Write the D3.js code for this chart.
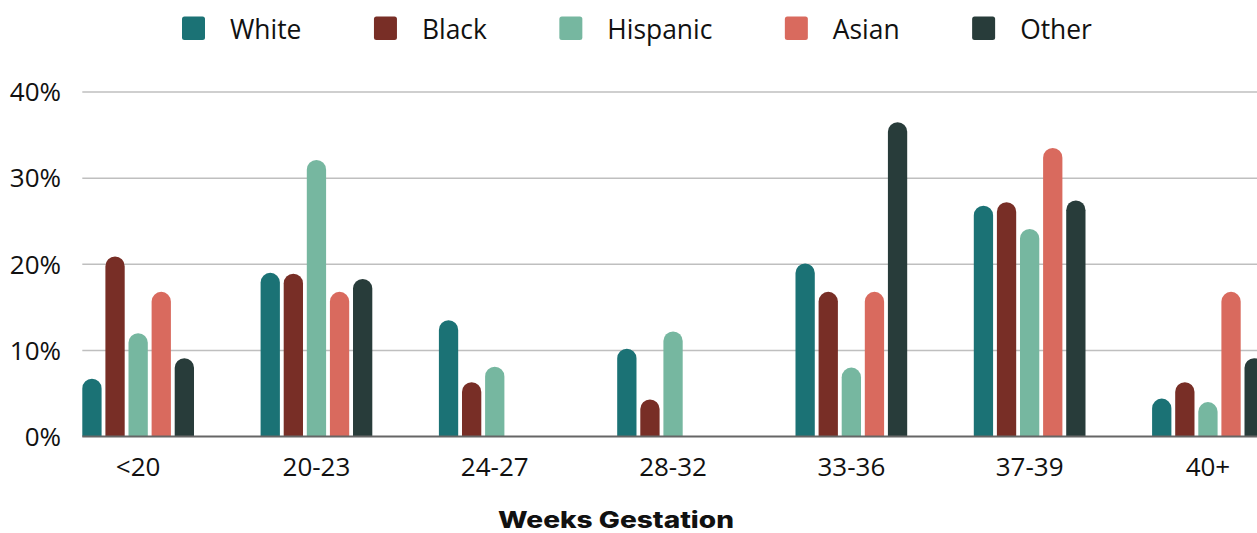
<!DOCTYPE html>
<html>
<head>
<meta charset="utf-8">
<script src="https://cdn.jsdelivr.net/npm/d3@7"></script>
<style>
  html, body { margin: 0; padding: 0; background: #fff; }
  svg { display: block; }
  text { font-family: "Open Sans", "Noto Sans", sans-serif; fill: #111; }
</style>
</head>
<body>
<svg id="chart" width="1257" height="533"></svg>
<script>
// Share of cases by weeks of gestation, per group (percent)
const categories = ["<20", "20-23", "24-27", "28-32", "33-36", "37-39", "40+"];
const seriesNames = ["White", "Black", "Hispanic", "Asian", "Other"];
const white    = [6.7, 19.0, 13.5, 10.2, 20.1, 26.8, 4.4];
const black    = [20.9, 18.9, 6.3, 4.3, 16.8, 27.2, 6.3];
const hispanic = [12.0, 32.1, 8.1, 12.2, 8.0, 24.1, 4.0];
const asian    = [16.8, 16.8, 0, 0, 16.8, 33.5, 16.8];
const other    = [9.1, 18.3, 0, 0, 36.5, 27.4, 9.1];
const yTicks = [0, 10, 20, 30, 40];

const seriesValues = [white, black, hispanic, asian, other];
const colors = ["#1b7275", "#782e26", "#76b7a0", "#d96a5e", "#283c3a"];

const svg = d3.select("#chart");
const W = 1257;

const plotLeft = 82.3;
const x0 = d3.scaleBand()
  .domain(categories)
  .range([plotLeft, plotLeft + 1181.5])
  .paddingInner(0.3735)
  .paddingOuter(0);

const x1 = d3.scaleBand()
  .domain(seriesNames)
  .range([0, x0.bandwidth()])
  .paddingInner(0.165);

const y = d3.scaleLinear().domain([0, 40]).range([436.5, 92]);

// horizontal gridlines
svg.append("g")
  .selectAll("line")
  .data(yTicks.filter(t => t > 0))
  .join("line")
  .attr("x1", plotLeft).attr("x2", W)
  .attr("y1", d => y(d)).attr("y2", d => y(d))
  .attr("stroke", "#bfbfbf")
  .attr("stroke-width", 1.5);

// y tick labels
svg.append("g")
  .selectAll("text")
  .data(yTicks)
  .join("text")
  .attr("x", 61)
  .attr("y", d => y(d))
  .attr("dy", "0.36em")
  .attr("text-anchor", "end")
  .style("font-size", "26px")
  .text(d => d + "%");

// bars with rounded tops
function topRounded(x, yTop, w, h) {
  if (h <= 0) return "";
  const r = Math.min(w / 2, h);
  const yb = yTop + h;
  return `M${x},${yb}V${yTop + r}A${r},${r} 0 0 1 ${x + r},${yTop}` +
         `H${x + w - r}A${r},${r} 0 0 1 ${x + w},${yTop + r}V${yb}Z`;
}

const rows = [];
categories.forEach((c, i) => {
  seriesNames.forEach((s, j) => {
    rows.push({ cat: c, series: s, value: seriesValues[j][i], color: colors[j] });
  });
});

svg.append("g")
  .selectAll("path")
  .data(rows.filter(d => d.value > 0))
  .join("path")
  .attr("d", d => {
    const bx = x0(d.cat) + x1(d.series);
    const top = y(d.value);
    return topRounded(bx, top, x1.bandwidth(), y(0) - top);
  })
  .attr("fill", d => d.color);

// baseline
svg.append("line")
  .attr("x1", plotLeft).attr("x2", W)
  .attr("y1", y(0)).attr("y2", y(0))
  .attr("stroke", "#666")
  .attr("stroke-width", 2);

// x tick labels
svg.append("g")
  .selectAll("text")
  .data(categories)
  .join("text")
  .attr("x", d => x0(d) + x0.bandwidth() / 2)
  .attr("y", 476)
  .attr("text-anchor", "middle")
  .style("font-size", "26px")
  .text(d => d);

// axis title
svg.append("text")
  .attr("x", 616)
  .attr("y", 528)
  .attr("text-anchor", "middle")
  .attr("textLength", 236)
  .attr("lengthAdjust", "spacingAndGlyphs")
  .style("font-family", "Inter, 'Open Sans', sans-serif")
  .style("font-weight", 800)
  .style("font-size", "22.5px")
  .text("Weeks Gestation");

// legend, laid out left to right
const legend = svg.append("g");
let lx = 182;
seriesNames.forEach((s, j) => {
  legend.append("rect")
    .attr("x", lx).attr("y", 16.5)
    .attr("width", 23).attr("height", 23.5)
    .attr("rx", 2.5)
    .attr("fill", colors[j]);
  const t = legend.append("text")
    .attr("x", lx + 48)
    .attr("y", 39)
    .style("font-size", "26.4px")
    .text(s);
  lx = lx + 48 + t.node().getComputedTextLength() + 72.5;
});
</script>
</body>
</html>
